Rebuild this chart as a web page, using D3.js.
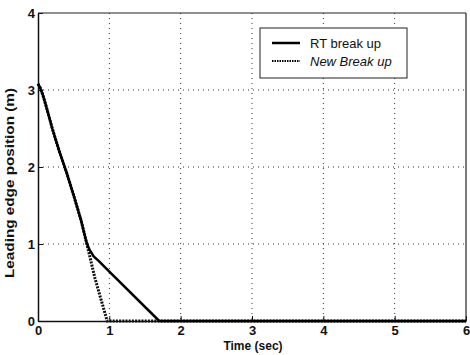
<!DOCTYPE html>
<html lang="en">
<head>
<meta charset="UTF-8" />
<title>Leading edge position</title>
<script src="https://d3js.org/d3.v7.js"></script>
<style>
  body { margin: 0; background: #fff; }
  svg { display: block; font-family: "Liberation Sans", Arial, sans-serif; }
</style>
</head>
<body>
<div id="chart"></div>
<script>
// values
const rtTime = [0, 0.03, 0.07, 0.12, 0.2, 0.3, 0.4, 0.5, 0.6, 0.68, 0.72, 0.78, 0.85, 1.0, 1.7, 6];
const rtPos  = [3.08, 3.03, 2.93, 2.77, 2.5, 2.2, 1.93, 1.63, 1.32, 1.02, 0.93, 0.84, 0.78, 0.64, 0, 0];
const newTime = [0, 0.03, 0.07, 0.12, 0.2, 0.3, 0.4, 0.5, 0.6, 0.68, 0.8, 0.97, 6];
const newPos  = [3.08, 3.03, 2.93, 2.77, 2.5, 2.2, 1.93, 1.63, 1.32, 1.02, 0.55, 0, 0];
const xTicks = [0, 1, 2, 3, 4, 5, 6];
const yTicks = [0, 1, 2, 3, 4];
const seriesNames = ["RT break up", "New Break up"];

const W = 470, H = 355;
const margin = {top: 13, right: 4, bottom: 34, left: 38};
const width = W - margin.left - margin.right,
      height = H - margin.top - margin.bottom;

const svg = d3.select("#chart").append("svg")
    .attr("width", W).attr("height", H)
  .append("g")
    .attr("transform", `translate(${margin.left},${margin.top})`);

const x = d3.scaleLinear().domain([0, 6]).range([0, width]);
const y = d3.scaleLinear().domain([0, 4]).range([height, 0]);

// grid
svg.append("g").selectAll("line")
  .data(xTicks.slice(1, -1))
  .join("line")
    .attr("x1", d => x(d)).attr("x2", d => x(d))
    .attr("y1", 0).attr("y2", height)
    .attr("stroke", "#333").attr("stroke-width", 1)
    .attr("stroke-dasharray", "1,4");
svg.append("g").selectAll("line")
  .data(yTicks.slice(1, -1))
  .join("line")
    .attr("y1", d => y(d)).attr("y2", d => y(d))
    .attr("x1", 0).attr("x2", width)
    .attr("stroke", "#333").attr("stroke-width", 1)
    .attr("stroke-dasharray", "1,4");

// axes
const xAxis = svg.append("g")
    .attr("transform", `translate(0,${height})`)
    .call(d3.axisBottom(x).tickValues(xTicks).tickFormat(d3.format("d"))
      .tickSizeInner(-5).tickSizeOuter(0).tickPadding(5));
const yAxis = svg.append("g")
    .call(d3.axisLeft(y).tickValues(yTicks).tickFormat(d3.format("d"))
      .tickSizeInner(-5).tickSizeOuter(0).tickPadding(3));
[xAxis, yAxis].forEach(a => {
  a.selectAll("text").attr("font-size", 13).attr("font-weight", "bold")
    .attr("fill", "#111").attr("font-family", "Liberation Sans, Arial, sans-serif");
  a.selectAll("line").attr("stroke", "#111");
  a.select(".domain").attr("stroke", "#111").attr("stroke-width", 1.5);
});

// top and right box edges
svg.append("line").attr("x1", 0).attr("x2", width).attr("y1", 0).attr("y2", 0)
  .attr("stroke", "#222").attr("stroke-width", 1.2);
svg.append("line").attr("x1", width).attr("x2", width).attr("y1", 0).attr("y2", height)
  .attr("stroke", "#222").attr("stroke-width", 1.2);

const line = d3.line().x(d => x(d[0])).y(d => y(d[1]));

svg.append("path")
  .datum(newTime.map((t, i) => [t, newPos[i]]))
  .attr("d", line)
  .attr("fill", "none").attr("stroke", "#111").attr("stroke-width", 3)
  .attr("stroke-dasharray", "2,1.2");

svg.append("path")
  .datum(rtTime.map((t, i) => [t, rtPos[i]]))
  .attr("d", line)
  .attr("fill", "none").attr("stroke", "#000").attr("stroke-width", 2.5)
  .attr("stroke-linejoin", "round");

// axis titles
svg.append("text")
  .attr("x", x(3) + 1).attr("y", height + 29)
  .attr("text-anchor", "middle").attr("font-size", 12).attr("font-weight", "bold")
  .attr("fill", "#111")
  .text("Time (sec)");
svg.append("text")
  .attr("transform", `translate(${-24},${183 - margin.top}) rotate(-90)`)
  .attr("text-anchor", "middle").attr("font-size", 13).attr("font-weight", "bold")
  .attr("fill", "#111")
  .attr("textLength", 190).attr("lengthAdjust", "spacingAndGlyphs")
  .text("Leading edge position (m)");

// legend
const lg = svg.append("g").attr("transform", `translate(${260 - margin.left},${28 - margin.top})`);
lg.append("rect").attr("width", 147).attr("height", 50)
  .attr("fill", "#fff").attr("stroke", "#222").attr("stroke-width", 1);
seriesNames.forEach((name, i) => {
  const yy = 15 + i * 18;
  lg.append("line").attr("x1", 12).attr("x2", 40).attr("y1", yy).attr("y2", yy)
    .attr("stroke", "#000")
    .attr("stroke-width", i === 0 ? 2.5 : 2)
    .attr("stroke-dasharray", i === 0 ? null : "1.5,1");
  lg.append("text").attr("x", 50).attr("y", yy + 4.5)
    .attr("font-size", 13)
    .attr("font-style", i === 0 ? "normal" : "italic")
    .attr("fill", "#111")
    .text(name);
});
</script>
</body>
</html>
